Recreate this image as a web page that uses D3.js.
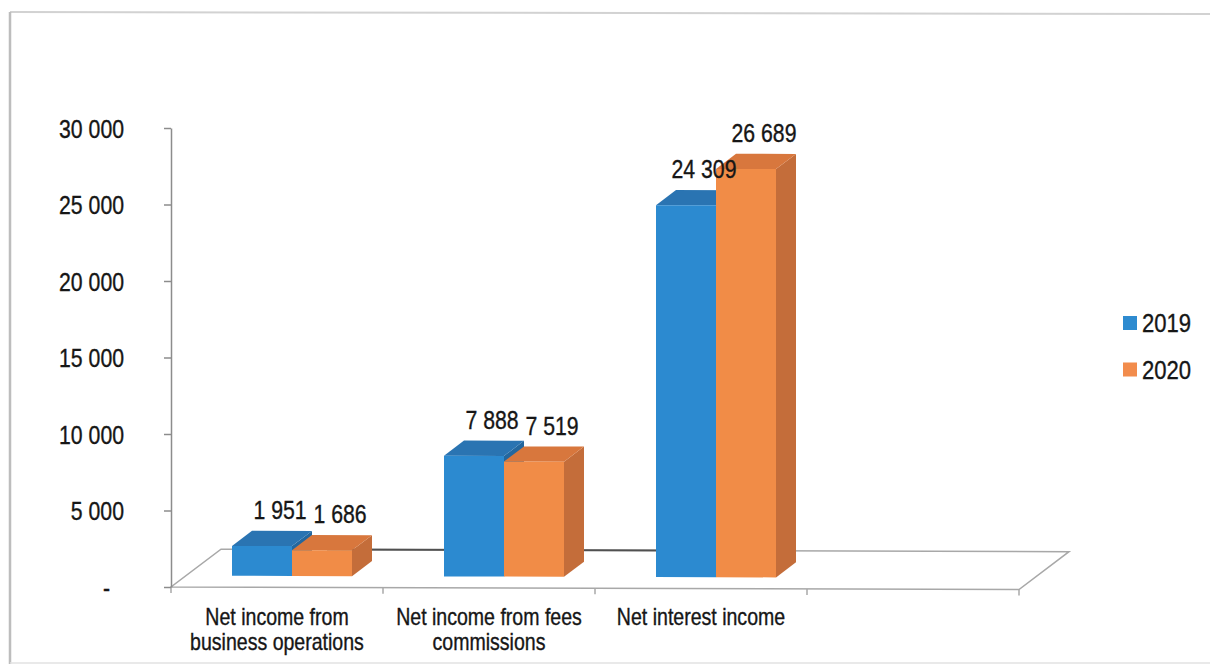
<!DOCTYPE html>
<html>
<head>
<meta charset="utf-8">
<script src="https://cdn.jsdelivr.net/npm/d3@7"></script>
<style>
  html, body { margin: 0; padding: 0; background: #fff; }
  svg { display: block; }
  text { font-family: "Liberation Sans", Arial, sans-serif; fill: #161616; stroke: #161616; stroke-width: 0.35px; }
</style>
</head>
<body>
<svg id="chart" width="1210" height="667"></svg>
<script>
// ---- data ----
const categories = ["Net income from business operations", "Net income from fees commissions", "Net interest income"];
const seriesNames = ["2019", "2020"];
const values2019 = [1951, 7888, 24309];
const values2020 = [1686, 7519, 26689];
const yTicks = [0, 5000, 10000, 15000, 20000, 25000, 30000];

const seriesValues = [values2019, values2020];
const colors = {
  "2019": { front: "#2c8ad0", top: "#2a74b2", side: "#23679e", legend: "#2e8bd0" },
  "2020": { front: "#f18c47", top: "#d8773d", side: "#c46d3a", legend: "#f28c4c" }
};

const SX = 0.85; // narrow-face horizontal squeeze
const svg = d3.select("#chart");

// outer frame
svg.append("line").attr("x1", 10).attr("y1", 12).attr("x2", 1212).attr("y2", 14).attr("stroke", "#d2d2d2").attr("stroke-width", 2);
svg.append("line").attr("x1", 10).attr("y1", 12).attr("x2", 10).attr("y2", 664).attr("stroke", "#bdbdbd").attr("stroke-width", 2.5);
svg.append("line").attr("x1", 10).attr("y1", 663).attr("x2", 1212).attr("y2", 663).attr("stroke", "#e2e2e2").attr("stroke-width", 1.5);

// scales
const x0 = 171, x1 = 1019;
const x = d3.scaleBand().domain(categories.concat([""])).range([x0, x1]).padding(0);
const inner = d3.scaleBand().domain(seriesNames).range([-60, 60]).padding(0);
const y = d3.scaleLinear().domain([0, 30000]).range([587, 128]);

const DX = 50, DY = -38, K = 0.003;
const D0 = 0.3, D1 = 0.7;
function project(px, v, d) {
  const sx = px + d * DX;
  return [sx, y(v) + d * DY + K * (sx - x0)];
}
const poly = pts => pts.map(p => p.join(",")).join(" ");

// floor
const fl = [project(x0, 0, 0), project(x1, 0, 0), project(x1, 0, 1), project(x0, 0, 1)];
svg.append("polygon").attr("points", poly(fl)).attr("fill", "none").attr("stroke", "#a8a8a8").attr("stroke-width", 1.5);
// darker part of back edge between bars
{
  const a = project(x(categories[0]) + x.bandwidth() / 2, 0, 1);
  const b = project(x(categories[2]) + x.bandwidth() / 2, 0, 1);
  svg.append("line").attr("x1", a[0]).attr("y1", a[1]).attr("x2", b[0]).attr("y2", b[1])
    .attr("stroke", "#505050").attr("stroke-width", 2);
}
// category boundary ticks on front edge
const bounds = x.domain().map(c => x(c)).concat([x1]);
svg.append("g").selectAll("line").data(bounds).join("line")
  .attr("x1", d => d).attr("x2", d => d)
  .attr("y1", d => project(d, 0, 0)[1]).attr("y2", d => project(d, 0, 0)[1] + 6)
  .attr("stroke", "#a8a8a8").attr("stroke-width", 1.5);

// y axis
const fmt = v => v === 0 ? "-" : d3.format(",")(v).replace(/,/g, " ");
const yAxis = svg.append("g").attr("transform", `translate(${x0},0)`)
  .call(d3.axisLeft(y).tickValues(yTicks).tickFormat(fmt).tickSize(7).tickSizeOuter(0).tickPadding(40));
yAxis.select(".domain").attr("stroke", "#8c8c8c").attr("stroke-width", 1.5);
yAxis.selectAll(".tick line").attr("stroke", "#8c8c8c").attr("stroke-width", 1.5);
yAxis.selectAll(".tick text")
  .attr("x", null).attr("dy", "0.36em")
  .attr("transform", d => `translate(${d === 0 ? -61 : -47},0) scale(${SX},1)`)
  .style("font-size", "25px").style("fill", "#161616")
  .style("font-family", '"Liberation Sans", Arial, sans-serif');

// bars
const barsG = svg.append("g");
categories.forEach((cat, ci) => {
  const cx = x(cat) + x.bandwidth() / 2;
  seriesNames.forEach((s, si) => {
    const v = seriesValues[si][ci];
    const bx0 = cx + inner(s), bx1 = bx0 + inner.bandwidth();
    const c = colors[s];
    const g = barsG.append("g");
    g.append("polygon").attr("points", poly([project(bx1, 0, D0), project(bx1, 0, D1), project(bx1, v, D1), project(bx1, v, D0)]))
      .attr("fill", c.side);
    g.append("polygon").attr("points", poly([project(bx0, v, D0), project(bx1, v, D0), project(bx1, v, D1), project(bx0, v, D1)]))
      .attr("fill", c.top);
    g.append("polygon").attr("points", poly([project(bx0, 0, D0), project(bx1, 0, D0), project(bx1, v, D0), project(bx0, v, D0)]))
      .attr("fill", c.front);
  });
});
// value labels
categories.forEach((cat, ci) => {
  const cx = x(cat) + x.bandwidth() / 2;
  seriesNames.forEach((s, si) => {
    const v = seriesValues[si][ci];
    const mid = cx + inner(s) + inner.bandwidth() / 2;
    const p = project(mid, v, D0);
    svg.append("text")
      .attr("transform", `translate(${p[0] + 18},${p[1] - 36}) scale(${SX},1)`)
      .attr("text-anchor", "middle").attr("dy", "0.36em")
      .style("font-size", "25px")
      .text(fmt(v));
  });
});

// category labels (wrapped)
const measure = svg.append("text").style("font-size", "23px");
function wrap(str, maxW) {
  const words = str.split(" "), lines = [];
  let cur = "";
  words.forEach(w => {
    const t = cur ? cur + " " + w : w;
    measure.text(t);
    if (measure.node().getComputedTextLength() * SX > maxW && cur) { lines.push(cur); cur = w; }
    else cur = t;
  });
  if (cur) lines.push(cur);
  return lines;
}
categories.forEach(cat => {
  const cx = x(cat) + x.bandwidth() / 2;
  const lines = wrap(cat, 200);
  lines.forEach((ln, li) => {
    svg.append("text")
      .attr("transform", `translate(${cx},${617 + li * 25}) scale(${SX},1)`)
      .attr("text-anchor", "middle").attr("dy", "0.36em")
      .style("font-size", "23px")
      .text(ln);
  });
});
measure.remove();

// legend
const legend = svg.append("g");
seriesNames.forEach((s, i) => {
  const ly = 323 + i * 46.5;
  legend.append("rect").attr("x", 1123).attr("y", ly - 7).attr("width", 14).attr("height", 14).attr("fill", colors[s].legend);
  legend.append("text")
    .attr("transform", `translate(1142,${ly}) scale(${SX},1)`)
    .attr("dy", "0.36em").style("font-size", "26px")
    .text(s);
});
</script>
</body>
</html>
